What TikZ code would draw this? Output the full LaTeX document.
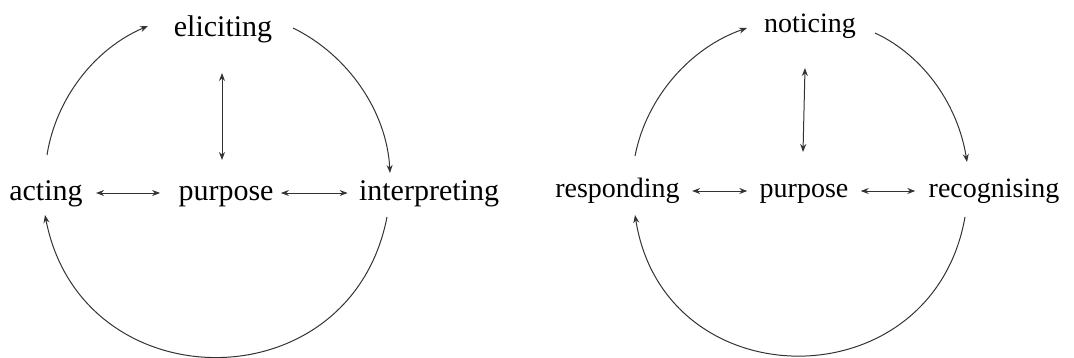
\documentclass[tikz,border=0pt]{standalone}
\usepackage{fontspec}
\setmainfont{Liberation Serif}
\usetikzlibrary{arrows.meta,calc}

\begin{document}
\begin{tikzpicture}[x=0.5pt,y=0.5pt,
  word/.style={anchor=base,inner sep=0pt},
  big/.style={font=\fontsize{15}{18}\selectfont},
  small/.style={font=\fontsize{14}{17}\selectfont},
  cyc/.style={draw=black!80,line width=0.5pt,-{Stealth[length=4pt,width=3pt]}},
  both/.style={draw=black!80,line width=0.5pt,{Stealth[length=4pt,width=3pt]}-{Stealth[length=4pt,width=3pt]}}]
\useasboundingbox (0,0) rectangle (1074,-358);
% left cycle
\node[word,big] (elic) at (223,-37) {eliciting};
\node[word,big] (acting) at (46,-200) {acting};
\node[word,big] (purpL) at (226,-200) {purpose};
\node[word,big] (interp) at (429,-200) {interpreting};
\draw[cyc] ($(acting.base)+(1,45)$) to[out=81,in=203,looseness=0.9] ($(elic.base)+(-75,11)$);
\draw[cyc] ($(elic.base)+(70,9)$) to[out=-26,in=93,looseness=0.9] ($(interp.base)+(-39,27)$);
\draw[cyc] ($(interp.base)+(-42,-17)$) to[out=-101,in=-79,looseness=1.43] ($(acting.base)+(-1,-15)$);
\draw[both] ($(acting.base east)+(13,7)$) -- ($(purpL.base west)+(-18,7)$);
\draw[both] ($(purpL.base east)+(7,7)$) -- ($(interp.base west)+(-11,7)$);
\draw[both] ($(elic.base)+(-1,-36)$) -- ($(purpL.base)+(-4,40)$);
% right cycle
\node[word,small] (notic) at (810,-33) {noticing};
\node[word,small] (resp) at (617.5,-197) {responding};
\node[word,small] (purpR) at (804,-197) {purpose};
\node[word,small] (recog) at (994,-197) {recognising};
\draw[cyc] ($(resp.base)+(17.5,41)$) to[out=79,in=199,looseness=0.9] ($(notic.base)+(-63,5)$);
\draw[cyc] ($(notic.base)+(65,0)$) to[out=-25,in=99,looseness=0.9] ($(recog.base)+(-27,35)$);
\draw[cyc] ($(recog.base)+(-29,-20)$) to[out=-100,in=-81,looseness=1.46] ($(resp.base)+(17.5,-18)$);
\draw[both] ($(resp.base east)+(12,6)$) -- ($(purpR.base west)+(-12,6)$);
\draw[both] ($(purpR.base east)+(12,6)$) -- ($(recog.base west)+(-13,6)$);
\draw[both] ($(notic.base)+(-5,-35)$) -- ($(purpR.base)+(-1,45)$);
\end{tikzpicture}
\end{document}
